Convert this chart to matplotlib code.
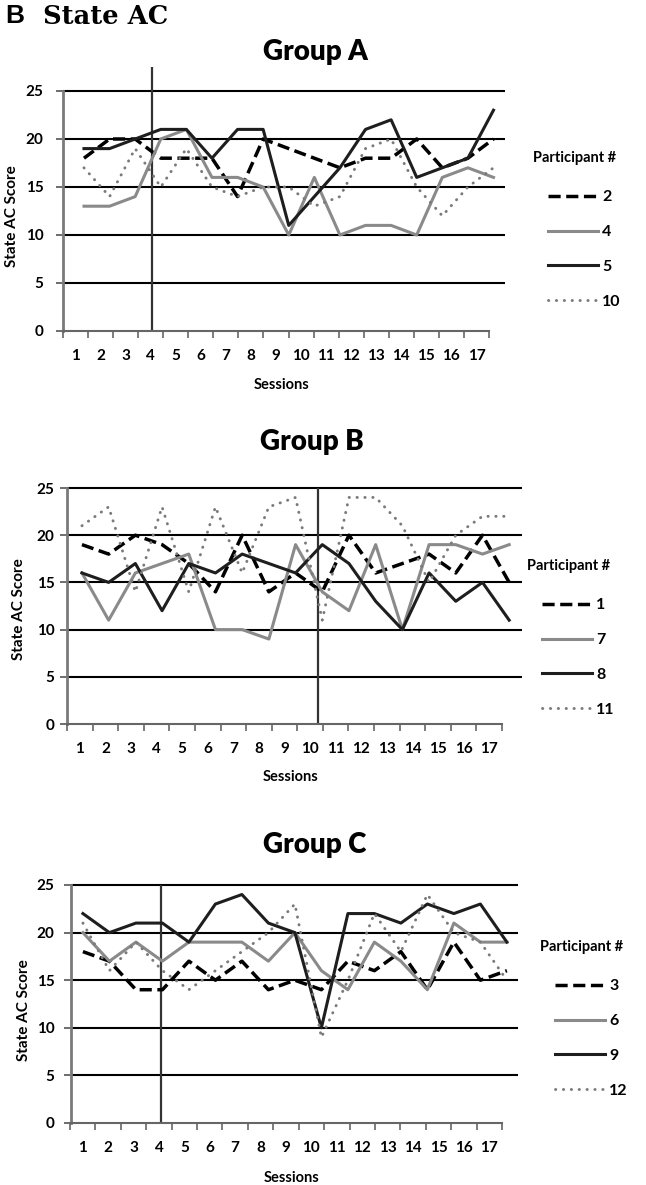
import numpy as np
import matplotlib.pyplot as plt

# ---- data ----
sessions = np.arange(1, 18)
y_ticks = [0, 5, 10, 15, 20, 25]

group_a_ids = ["2", "4", "5", "10"]
p2 = [18, 20, 20, 18, 18, 18, 14, 20, 19, 18, 17, 18, 18, 20, 17, 18, 20]
p4 = [13, 13, 14, 20, 21, 16, 16, 15, 10, 16, 10, 11, 11, 10, 16, 17, 16]
p5 = [19, 19, 20, 21, 21, 18, 21, 21, 11, 14, 17, 21, 22, 16, 17, 18, 23]
p10 = [17, 14, 19, 15, 19, 15, 14, 15, 15, 13, 14, 19, 20, 15, 12, 15, 17]

group_b_ids = ["1", "7", "8", "11"]
p1 = [19, 18, 20, 19, 17, 14, 20, 14, 16, 14, 20, 16, 17, 18, 16, 20, 15]
p7 = [16, 11, 16, 17, 18, 10, 10, 9, 19, 14, 12, 19, 10, 19, 19, 18, 19]
p8 = [16, 15, 17, 12, 17, 16, 18, 17, 16, 19, 17, 13, 10, 16, 13, 15, 11]
p11 = [21, 23, 14, 23, 14, 23, 16, 23, 24, 11, 24, 24, 21, 15, 20, 22, 22]

group_c_ids = ["3", "6", "9", "12"]
p3 = [18, 17, 14, 14, 17, 15, 17, 14, 15, 14, 17, 16, 18, 14, 19, 15, 16]
p6 = [20, 17, 19, 17, 19, 19, 19, 17, 20, 16, 14, 19, 17, 14, 21, 19, 19]
p9 = [22, 20, 21, 21, 19, 23, 24, 21, 20, 10, 22, 22, 21, 23, 22, 23, 19]
p12 = [21, 16, 19, 16, 14, 16, 18, 20, 23, 9, 15, 22, 18, 24, 20, 19, 15]

W, H = 646, 1185
fig = plt.figure(figsize=(W / 100, H / 100), dpi=100)

FONT = "Lato"
styles = [
    dict(color="black", lw=2.5, linestyle=(0, (3.5, 1.6))),
    dict(color="#8a8a8a", lw=2.2, linestyle="-"),
    dict(color="#1e1e1e", lw=2.2, linestyle="-"),
    dict(color="#7a7a7a", lw=2.1, linestyle=(0, (0.1, 2.6)), dash_capstyle="round"),
]


def px_ax(l, t, r, b):
    return fig.add_axes([l / W, 1 - b / H, (r - l) / W, max(b - t, 0.01) / H])


def draw_group(name, box, xlim, cat_span, vline, vtop, ids, series,
               title_xy, ylab_xy, sess_y, leg_xy, ypad):
    l, t, r, b = box
    ax = px_ax(l, t, r, b)
    ax.set_xlim(*xlim)
    ax.set_ylim(0, 25)
    for s in ["top", "right", "bottom"]:
        ax.spines[s].set_visible(False)
    ax.spines["left"].set_color("#7a7a7a")
    ax.spines["left"].set_linewidth(2.0)
    ax.patch.set_visible(False)
    ax.set_xticks([])
    ax.set_yticks(y_ticks)
    ax.set_yticklabels([str(v) for v in y_ticks], fontfamily=FONT,
                       fontweight="bold", fontsize=11)
    ax.tick_params(axis="y", length=5, width=1.2, color="#555555", pad=ypad)
    ax.hlines(y_ticks[1:], xlim[0], xlim[1], color="black", lw=1.5,
              clip_on=False, zorder=1)
    ax.vlines(vline, 0, vtop, color="#333333", lw=1.6, clip_on=False, zorder=1)

    handles = []
    for vals, st in zip(series, styles):
        ln, = ax.plot(sessions, vals, zorder=3, **st)
        handles.append(ln)

    # category axis drawn along the bottom
    cl, cr = cat_span
    cx = px_ax(cl, b, cr, b)
    cx.patch.set_visible(False)
    for s in ["top", "right", "left"]:
        cx.spines[s].set_visible(False)
    cx.spines["bottom"].set_color("#666666")
    cx.spines["bottom"].set_linewidth(1.5)
    cx.set_xlim(0.5, 17.5)
    cx.set_yticks([])
    cx.set_xticks(sessions)
    cx.set_xticklabels([str(s) for s in sessions], fontfamily=FONT,
                       fontweight="bold", fontsize=11)
    cx.set_xticks(np.arange(0.5, 18, 1), minor=True)
    cx.tick_params(axis="x", which="major", length=0, pad=13)
    cx.tick_params(axis="x", which="minor", length=5, width=1.2,
                   color="#666666", direction="out")

    fig.text(title_xy[0] / W, 1 - title_xy[1] / H, name, ha="center",
             va="center", fontfamily=FONT, fontweight="heavy", fontsize=20)
    fig.text(ylab_xy[0] / W, 1 - ylab_xy[1] / H, "State AC Score",
             rotation=90, ha="center", va="center", fontfamily=FONT,
             fontweight="bold", fontsize=11)
    fig.text(((cl + cr) / 2 + 6) / W, 1 - sess_y / H, "Sessions", ha="center",
             va="center", fontfamily=FONT, fontweight="bold", fontsize=10.5)

    lx, ly = leg_xy
    fig.text(lx / W, 1 - ly / H, "Participant #", ha="left", va="center",
             fontfamily=FONT, fontweight="bold", fontsize=10.5)
    fig.legend(handles, ids, loc="upper left",
               bbox_to_anchor=((lx + 15) / W, 1 - (ly + 32) / H),
               frameon=False, borderpad=0, borderaxespad=0,
               handlelength=3.1, handletextpad=0.3, labelspacing=1.3,
               prop=dict(family=FONT, weight="bold", size=11.5))


draw_group("Group A", (63, 91, 505, 331), (0.18, 17.45), (63, 489), 3.66, 27.5,
           group_a_ids, [p2, p4, p5, p10],
           (315, 52), (12, 216), 385, (533, 158), 9)
draw_group("Group B", (67, 488, 522, 724), (0.44, 17.48), (67, 502), 9.84, 25,
           group_b_ids, [p1, p7, p8, p11],
           (312, 442), (19, 609), 777, (527, 566), 4)
draw_group("Group C", (71, 885, 518, 1123), (0.55, 17.42), (70, 502), 3.94, 25,
           group_c_ids, [p3, p6, p9, p12],
           (315, 845), (24, 1010), 1178, (540, 947), 7)

fig.text(5 / W, 1 - 16 / H, "B", ha="left", va="center",
         fontfamily="Liberation Sans", fontweight="bold", fontsize=19)
fig.text(43 / W, 1 - 16 / H, "State AC", ha="left", va="center",
         fontfamily="DejaVu Serif", fontweight="bold", fontsize=18.5)

fig.savefig("out.png", dpi=100)
